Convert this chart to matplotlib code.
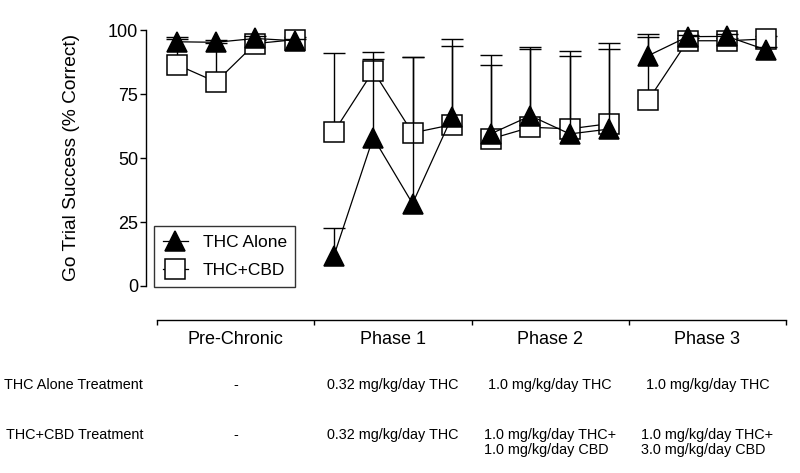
import numpy as np
import matplotlib
matplotlib.use("Agg")
import matplotlib.pyplot as plt
from matplotlib import font_manager, transforms

plt.rcParams["font.family"] = ["Liberation Sans", "DejaVu Sans"]

# group names and treatment table
phases = ["Pre-Chronic", "Phase 1", "Phase 2", "Phase 3"]
row_labels = ["THC Alone Treatment", "THC+CBD Treatment"]
thc_alone_treatment = ["-", "0.32 mg/kg/day THC", "1.0 mg/kg/day THC", "1.0 mg/kg/day THC"]
thc_cbd_treatment = [
    "-",
    "0.32 mg/kg/day THC",
    "1.0 mg/kg/day THC+\n1.0 mg/kg/day CBD",
    "1.0 mg/kg/day THC+\n3.0 mg/kg/day CBD",
]

# go trial success (% correct), 4 sessions per phase
thc_alone = [95.4, 95.2, 96.7, 95.8,
             11.8, 58.0, 32.2, 66.0,
             59.5, 66.5, 59.4, 61.3,
             90.0, 97.4, 97.5, 92.2]
thc_alone_err = [1.0, 1.0, 1.0, 0.8,
                 11.0, 33.5, 57.4, 30.4,
                 30.7, 27.0, 32.5, 33.8,
                 8.3, 0.8, 0.8, 1.0]
thc_cbd = [86.5, 79.7, 94.7, 96.2,
           60.2, 84.0, 59.8, 63.0,
           57.5, 62.0, 61.4, 63.4,
           72.7, 95.8, 95.8, 96.5]
thc_cbd_err = [10.9, 15.1, 1.5, 1.0,
               30.7, 4.5, 29.7, 30.8,
               28.8, 30.6, 28.4, 29.0,
               24.7, 1.2, 1.2, 1.0]

n_per_phase = 4

names = {f.name for f in font_manager.fontManager.ttflist}
if "Liberation Sans Narrow" in names:
    table_font, table_size = "Liberation Sans Narrow", 12
else:
    table_font, table_size = "Liberation Sans", 10.4


def draw_series(ax, x, y, err, marker, face, z):
    y = np.array(y)
    err = np.array(err)
    line = None
    for g in range(len(phases)):
        sl = slice(g * n_per_phase, (g + 1) * n_per_phase)
        ax.vlines(x[sl], y[sl], y[sl] + err[sl], color="black", lw=1.0,
                  zorder=z, clip_on=False)
        ax.plot(x[sl], y[sl] + err[sl], ls="none", marker="_", ms=16, mew=1.0,
                color="black", zorder=z, clip_on=False)
        line, = ax.plot(x[sl], y[sl], color="black", lw=0.9, marker=marker,
                        ms=14, mfc=face, mec="black", mew=1.1,
                        zorder=z + 0.5, clip_on=False)
    return line


fig = plt.figure(figsize=(8, 4.73), dpi=100)
ax = fig.add_axes([146 / 800, 1 - 286 / 473, 640 / 800, 256 / 473])

x = np.arange(len(thc_alone))
sq_line = draw_series(ax, x, thc_cbd, thc_cbd_err, "s", "white", 2)
tri_line = draw_series(ax, x, thc_alone, thc_alone_err, "^", "black", 3)

ax.set_xlim(-0.78, len(phases) * n_per_phase - 0.5)
ax.set_ylim(0, 100)

for s in ["top", "right"]:
    ax.spines[s].set_visible(False)
ax.spines["left"].set_linewidth(1.0)
ax.spines["bottom"].set_linewidth(1.0)
ax.spines["bottom"].set_position(("outward", 24.5))
bounds = np.arange(len(phases) + 1) * n_per_phase - 0.5
ax.spines["bottom"].set_bounds(bounds[0], bounds[-1])

ax.set_yticks([0, 25, 50, 75, 100])
ax.tick_params(axis="y", length=4.3, width=1.0, pad=1.5, labelsize=13)

centers = bounds[:-1] + n_per_phase / 2
ax.set_xticks(bounds)
ax.set_xticklabels([])
ax.set_xticks(centers, minor=True)
ax.set_xticklabels(phases, minor=True)
ax.tick_params(axis="x", which="major", length=3.6, width=1.0, direction="out")
ax.tick_params(axis="x", which="minor", length=0, pad=8, labelsize=13)

fig.text(72 / 800, 1 - 157 / 473, "Go Trial Success (% Correct)", rotation=90,
         ha="center", va="center", fontsize=13.8)

leg = ax.legend([tri_line, sq_line], ["THC Alone", "THC+CBD"],
                loc="lower left", bbox_to_anchor=(154 / 800, 1 - 287 / 473),
                bbox_transform=fig.transFigure, borderaxespad=0,
                fontsize=12.5, frameon=True, fancybox=False,
                handlelength=1.45, handletextpad=0.85, labelspacing=0.75,
                borderpad=0.5)
leg.get_frame().set_edgecolor("black")
leg.get_frame().set_linewidth(1.0)

# treatment table below the phase labels
trans = transforms.blended_transform_factory(ax.transData, fig.transFigure)
rows = [thc_alone_treatment, thc_cbd_treatment]
row_baselines = [389, 439]
line_step = 15
for label, cells, base in zip(row_labels, rows, row_baselines):
    fig.text(143 / 800, 1 - base / 473, label, ha="right", va="baseline",
             family=table_font, fontsize=table_size)
    for cx, txt in zip(centers, cells):
        # baseline of a multi-line cell is its last line
        last = base + line_step * txt.count("\n")
        ax.text(cx, 1 - last / 473, txt, transform=trans, ha="center",
                va="baseline", multialignment="left", linespacing=1.08,
                family=table_font, fontsize=table_size)

fig.savefig("out.png", dpi=100)
